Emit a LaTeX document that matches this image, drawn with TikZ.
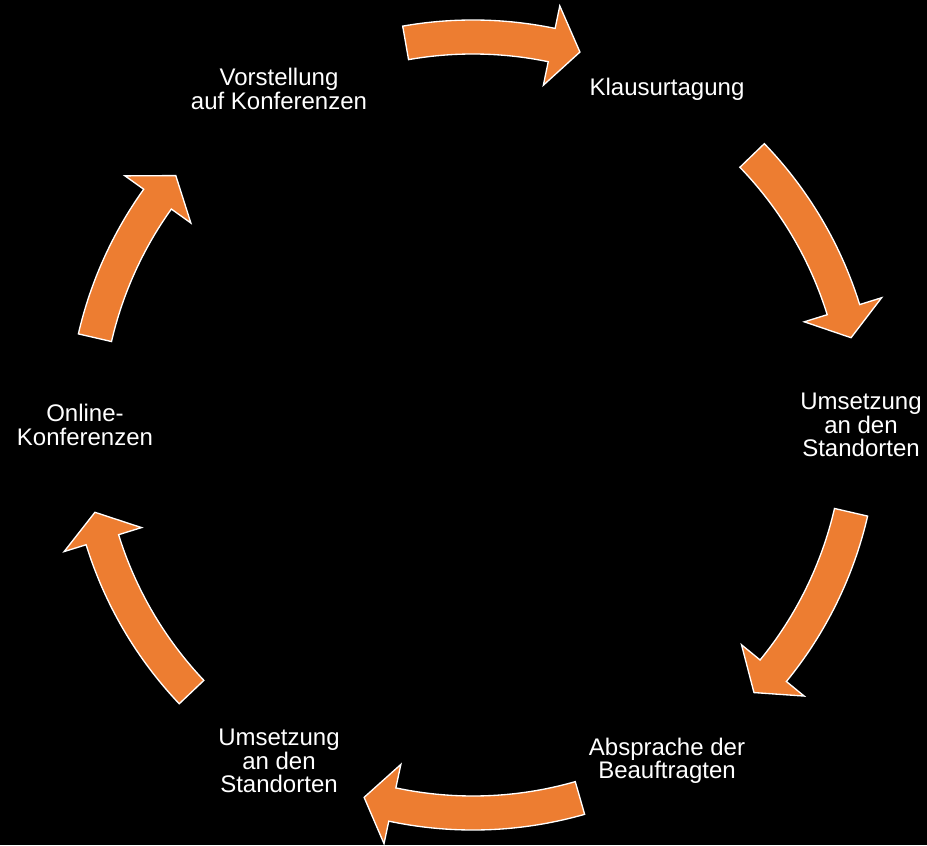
\documentclass[tikz,border=0pt]{standalone}
\usepackage{fontspec}
\setmainfont{Liberation Sans}
\usepackage{xcolor}
\definecolor{arroworange}{HTML}{ED7D31}

\tikzset{
  phase/.style={text=white,align=center,inner sep=1pt,
    font=\fontsize{18}{17.5}\selectfont},
  cyclearrow/.style={fill=arroworange,draw=white,line width=1pt,line join=miter}
}

\begin{document}
\begin{tikzpicture}[x=0.75pt,y=0.75pt]
         \useasboundingbox (-473,-420) rectangle (454,425);
         \fill[black] (-473,-420) rectangle (454,425);
         \coordinate (centre) at (0,0);

         \node[phase,name=klausur] at (60:388) {Klausurtagung};
         \node[phase,name=umsetzungR] at (0:388) {Umsetzung\\an den\\Standorten};
         \node[phase,name=absprache] at (-60:388) {Absprache der\\Beauftragten};
         \node[phase,name=umsetzungL] at (-120:388) {Umsetzung\\an den\\Standorten};
         \node[phase,name=online] at (180:388) {Online-\\Konferenzen};
         \node[phase,name=vorstellung] at (120:388) {Vorstellung\\auf Konferenzen};

         \draw[cyclearrow] (100:405) arc[start angle=100,end angle=78.3,radius=405]
            -- (78.3:428) -- (74:388) -- (78.3:347) -- (78.3:371)
            arc[start angle=78.3,end angle=100,radius=371] -- cycle;
         \draw[cyclearrow] (44:405) arc[start angle=44,end angle=17.3,radius=405]
            -- (17.3:428) -- (13:388) -- (17.3:347) -- (17.3:371)
            arc[start angle=17.3,end angle=44,radius=371] -- cycle;
         \draw[cyclearrow] (-13:405) arc[start angle=-13,end angle=-39.3,radius=405]
            -- (-39.3:428) -- (-43.6:388) -- (-39.3:347) -- (-39.3:371)
            arc[start angle=-39.3,end angle=-13,radius=371] -- cycle;
         \draw[cyclearrow] (-74:405) arc[start angle=-74,end angle=-102,radius=405]
            -- (-102:428) -- (-106.3:388) -- (-102:347) -- (-102:371)
            arc[start angle=-102,end angle=-74,radius=371] -- cycle;
         \draw[cyclearrow] (-136.5:405) arc[start angle=-136.5,end angle=-162.8,radius=405]
            -- (-162.8:428) -- (-167:388) -- (-162.8:347) -- (-162.8:371)
            arc[start angle=-162.8,end angle=-136.5,radius=371] -- cycle;
         \draw[cyclearrow] (167:405) arc[start angle=167,end angle=144.4,radius=405]
            -- (144.4:428) -- (140:388) -- (144.4:347) -- (144.4:371)
            arc[start angle=144.4,end angle=167,radius=371] -- cycle;
      \end{tikzpicture}
\end{document}
